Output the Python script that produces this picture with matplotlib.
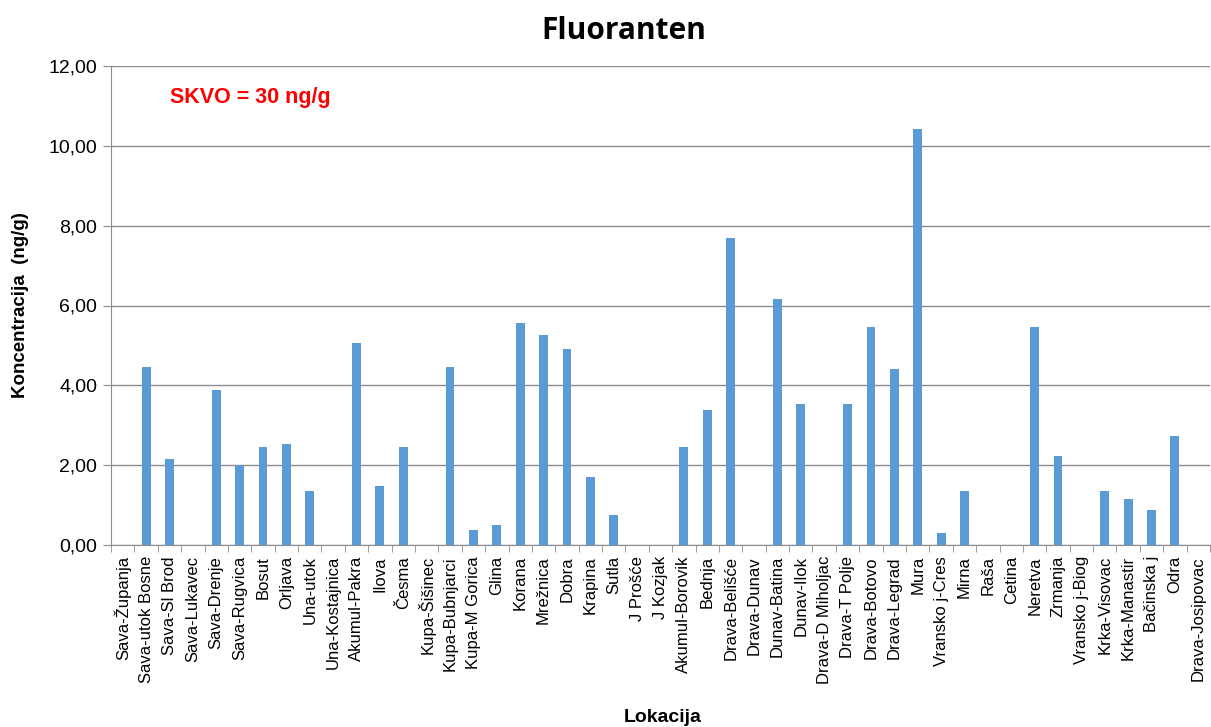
import matplotlib.pyplot as plt
from matplotlib.ticker import FuncFormatter, FixedLocator
import numpy as np

lokacije = ['Sava-Županja', 'Sava-utok Bosne', 'Sava-Sl Brod', 'Sava-Lukavec', 'Sava-Drenje',
            'Sava-Rugvica', 'Bosut', 'Orljava', 'Una-utok', 'Una-Kostajnica', 'Akumul-Pakra',
            'Ilova', 'Česma', 'Kupa-Šišinec', 'Kupa-Bubnjarci', 'Kupa-M Gorica', 'Glina', 'Korana',
            'Mrežnica', 'Dobra', 'Krapina', 'Sutla', 'J Prošće', 'J Kozjak', 'Akumul-Borovik',
            'Bednja', 'Drava-Belišće', 'Drava-Dunav', 'Dunav-Batina', 'Dunav-Ilok',
            'Drava-D Miholjac', 'Drava-T Polje', 'Drava-Botovo', 'Drava-Legrad', 'Mura',
            'Vransko j-Cres', 'Mirna', 'Raša', 'Cetina', 'Neretva', 'Zrmanja', 'Vransko j-Biog',
            'Krka-Visovac', 'Krka-Manastir', 'Bačinska j', 'Odra', 'Drava-Josipovac']

fluoranten = [0, 4.45, 2.16, 0, 3.89,
              2.01, 2.46, 2.54, 1.36, 0, 5.06,
              1.48, 2.45, 0, 4.45, 0.38, 0.50, 5.55,
              5.25, 4.91, 1.71, 0.76, 0, 0, 2.46,
              3.37, 7.70, 0, 6.16, 3.52,
              0, 3.54, 5.47, 4.42, 10.41,
              0.30, 1.36, 0, 0, 5.47, 2.23, 0,
              1.36, 1.14, 0.88, 2.72, 0]

plt.rcParams['font.family'] = ['Liberation Sans', 'DejaVu Sans']

fig = plt.figure(figsize=(12.11, 7.27), dpi=100)
ax = fig.add_axes([111 / 1211, 1 - 545 / 727, 1099 / 1211, 479 / 727])

x = np.arange(len(lokacije))
ax.bar(x, fluoranten, width=0.38, color='#5b9bd5', zorder=3)

ax.set_xlim(-0.5, len(lokacije) - 0.5)
ax.set_ylim(0, 12)
ax.set_yticks(np.arange(0, 12.01, 2))
ax.yaxis.set_major_formatter(FuncFormatter(lambda v, p: f'{v:.2f}'.replace('.', ',')))
ax.grid(axis='y', color='#8c8c8c', linewidth=1, zorder=0)

ax.set_xticks(x)
ax.set_xticklabels(lokacije, rotation=90, fontsize=12)
ax.xaxis.set_minor_locator(FixedLocator(np.arange(-0.5, len(lokacije), 1)))
ax.tick_params(axis='x', which='major', length=0, pad=8)
ax.tick_params(axis='x', which='minor', length=5, color='#8c8c8c', direction='out')
ax.tick_params(axis='y', labelsize=14, length=6, color='#8c8c8c', pad=4)

for s in ['top', 'right']:
    ax.spines[s].set_visible(False)
ax.spines['left'].set_color('#8c8c8c')
ax.spines['bottom'].set_color('#8c8c8c')

ax.set_ylabel('Koncentracija  (ng/g)', fontsize=13.5, fontweight='bold')
ax.yaxis.set_label_coords(-0.075, 0.5)
fig.text(663 / 1211, 1 - 722 / 727, 'Lokacija', fontsize=14, fontweight='bold',
         ha='center', va='baseline')

fig.text(0.515, 0.957, 'Fluoranten', fontsize=21.5, fontweight='bold',
         family=['Open Sans', 'DejaVu Sans'], ha='center', va='center')
ax.text(0.054, 0.935, 'SKVO = 30 ng/g', transform=ax.transAxes, color='#ff0000',
        fontsize=15.5, fontweight='bold', va='center')

fig.savefig('out.png', dpi=100)
